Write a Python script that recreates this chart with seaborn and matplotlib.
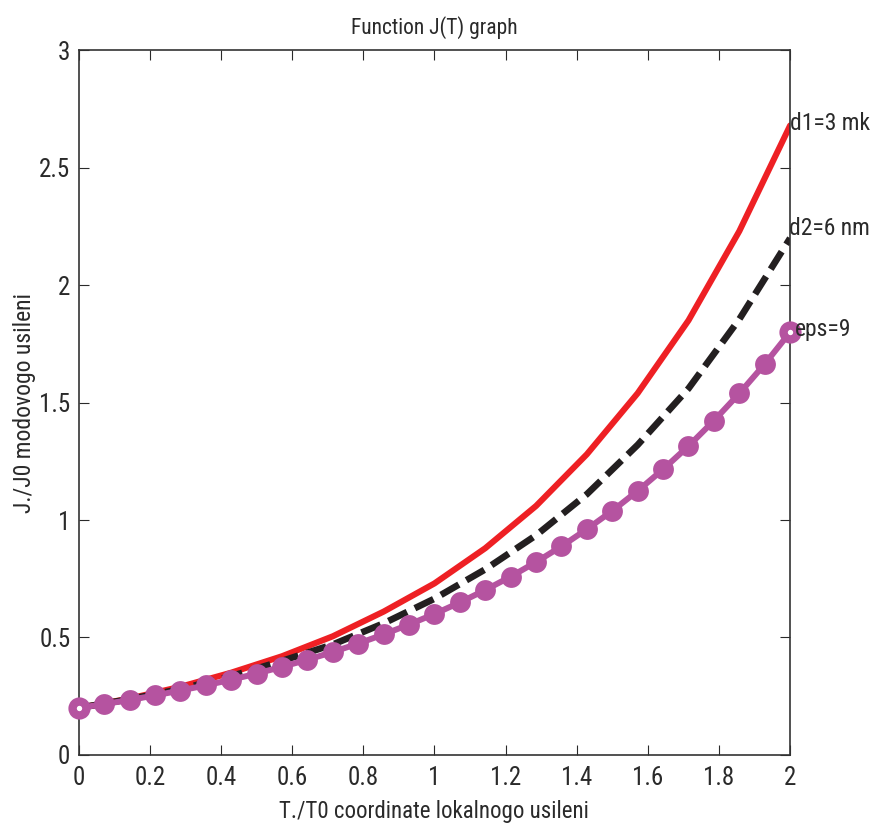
import numpy as np
import pandas as pd
import matplotlib
matplotlib.use("Agg")
import matplotlib.pyplot as plt
import seaborn as sns

# x grids (T/T0)
x_coarse = [i / 7 for i in range(15)]
x_fine = [i / 14 for i in range(29)]

# J/J0 values
d1_vals = [0.20, 0.24, 0.29, 0.35, 0.42, 0.505, 0.61, 0.73, 0.88, 1.06,
           1.28, 1.54, 1.85, 2.23, 2.68]
d2_vals = [0.20, 0.237, 0.28, 0.335, 0.40, 0.47, 0.56, 0.665, 0.79, 0.935,
           1.11, 1.32, 1.56, 1.855, 2.20]
eps_vals = [0.200, 0.216, 0.234, 0.253, 0.274, 0.296, 0.320, 0.346, 0.375,
            0.405, 0.438, 0.474, 0.513, 0.555, 0.600, 0.649, 0.702, 0.759,
            0.821, 0.888, 0.961, 1.039, 1.124, 1.216, 1.315, 1.423, 1.539,
            1.664, 1.800]

labels = ["d1=3 mk", "d2=6 nm", "eps=9"]
x_ticks = [0, 0.2, 0.4, 0.6, 0.8, 1, 1.2, 1.4, 1.6, 1.8, 2]
x_tick_labels = ["0", "0.2", "0.4", "0.6", "0.8", "1", "1.2", "1.4", "1.6", "1.8", "2"]
y_ticks = [0, 0.5, 1, 1.5, 2, 2.5, 3]
y_tick_labels = ["0", "0.5", "1", "1.5", "2", "2.5", "3"]

red = "#ee2024"
black = "#231f20"
magenta = "#b553a0"
txt = "#2a2a2a"

sns.set_style("ticks")
plt.rcParams["font.family"] = ["Roboto Condensed", "DejaVu Sans"]
plt.rcParams["xtick.direction"] = "in"
plt.rcParams["ytick.direction"] = "in"

df1 = pd.DataFrame({"x": x_coarse, "y": d1_vals})
df2 = pd.DataFrame({"x": x_coarse, "y": d2_vals})
df3 = pd.DataFrame({"x": x_fine, "y": eps_vals})

fig = plt.figure(figsize=(8.75, 8.25), dpi=100)
ax = fig.add_axes([0.090, 0.085, 0.813, 0.854])

sns.lineplot(data=df1, x="x", y="y", ax=ax, color=red, lw=4.4,
             estimator=None, sort=False)
sns.lineplot(data=df2, x="x", y="y", ax=ax, color=black, lw=4.8,
             estimator=None, sort=False)
ax.lines[-1].set_dashes((3.1, 1.3))
sns.lineplot(data=df3, x="x", y="y", ax=ax, color=magenta, lw=4.3,
             marker="o", markersize=15, markeredgewidth=0,
             estimator=None, sort=False, clip_on=False)
# end markers with a small light centre
ax.plot([x_fine[0], x_fine[-1]], [eps_vals[0], eps_vals[-1]], "o",
        ms=10, mfc="white", mec=magenta, mew=6, clip_on=False, zorder=5)

label_x = [2.001, 1.998, 2.012]
label_y = [d1_vals[-1] + 0.01, d2_vals[-1] + 0.04, eps_vals[-1] + 0.01]
for lab, xv, yv in zip(labels, label_x, label_y):
    ax.text(xv, yv, lab, fontsize=17, va="center", ha="left", color=txt,
            zorder=10)

ax.set_xlim(0, 2)
ax.set_ylim(0, 3)
ax.set_xticks(x_ticks)
ax.set_xticklabels(x_tick_labels)
ax.set_yticks(y_ticks)
ax.set_yticklabels(y_tick_labels)
ax.tick_params(axis="both", labelsize=18, length=7, width=0.8,
               top=True, right=True, colors=txt)
ax.tick_params(axis="x", pad=8)
ax.tick_params(axis="y", pad=6)
for s in ax.spines.values():
    s.set_visible(True)
    s.set_linewidth(1.2)
    s.set_color("#333333")

ax.set_xlabel("T./T0 coordinate lokalnogo usileni", fontsize=16.5, color=txt, labelpad=7)
ax.set_ylabel("J./J0 modovogo usileni", fontsize=17, color=txt, labelpad=2)
ax.set_title("Function J(T) graph", fontsize=15.5, color=txt, pad=12)

fig.savefig("out.png", dpi=100)
